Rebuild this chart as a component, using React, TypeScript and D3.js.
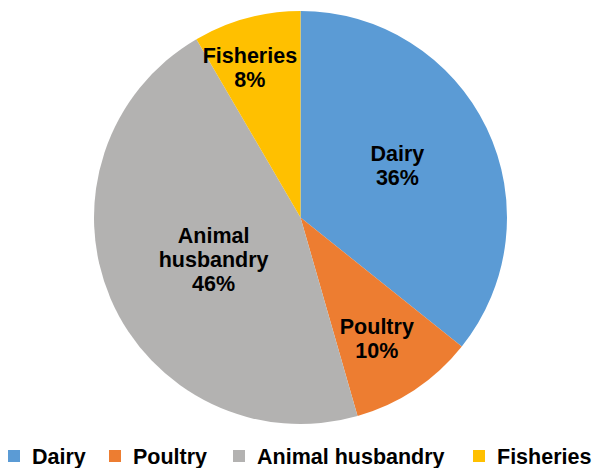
import React from "react";
import * as d3 from "d3";

const categories = ["Dairy", "Poultry", "Animal husbandry", "Fisheries"];
const shares = [35.7, 9.8, 46.0, 8.4];
const colors = ["#5B9BD5", "#ED7D31", "#B3B2B1", "#FFC000"];

// label text lines inside each slice
const labelLines = [["Dairy"], ["Poultry"], ["Animal", "husbandry"], ["Fisheries"]];
// distance of each label block from the centre (fraction of radius) and a small angular nudge (degrees)
const labelRadiusFrac = [0.533, 0.69, 0.466, 0.767];
const labelAngleNudge = [-2.6, 1.3, -2.3, -3.5];

const W = 596;
const H = 468;
const cx = 300.5;
const cy = 217.5;
const R = 206.5;

export default function App() {
  const pie = d3
    .pie<number>()
    .sort(null)
    .value((d) => d)
    .startAngle(0)
    .endAngle(2 * Math.PI);
  const arcs = pie(shares);
  const arc = d3.arc<d3.PieArcDatum<number>>().innerRadius(0).outerRadius(R);
  const total = d3.sum(shares);

  const legendX = [8, 109, 233, 473];
  const sq = 12;
  const lineH = 24;

  return (
    <svg
      width={W}
      height={H}
      style={{ position: "absolute", left: 0, top: 0 }}
      fontFamily="'Liberation Sans', Arial, sans-serif"
      fontWeight="bold"
    >
      <g transform={`translate(${cx},${cy})`}>
        {arcs.map((a, i) => (
          <path key={i} d={arc(a) ?? ""} fill={colors[i]} />
        ))}
        {arcs.map((a, i) => {
          const mid = (a.startAngle + a.endAngle) / 2 + (labelAngleNudge[i] * Math.PI) / 180;
          const r = R * labelRadiusFrac[i];
          const x = Math.sin(mid) * r;
          const y = -Math.cos(mid) * r;
          const lines = [...labelLines[i], `${Math.round((shares[i] / total) * 100)}%`];
          const top = y - ((lines.length - 1) * lineH) / 2;
          return (
            <text key={i} textAnchor="middle" fontSize={21.5} fill="#000">
              {lines.map((t, j) => (
                <tspan key={j} x={x} y={top + j * lineH} dy="0.36em">
                  {t}
                </tspan>
              ))}
            </text>
          );
        })}
      </g>
      <g>
        {categories.map((c, i) => (
          <g key={c} transform={`translate(${legendX[i]},456)`}>
            <rect x={0} y={-sq / 2} width={sq} height={sq} fill={colors[i]} />
            <text x={24} y={0} dy="0.36em" fontSize={21.5} fill="#000">
              {c}
            </text>
          </g>
        ))}
      </g>
    </svg>
  );
}
